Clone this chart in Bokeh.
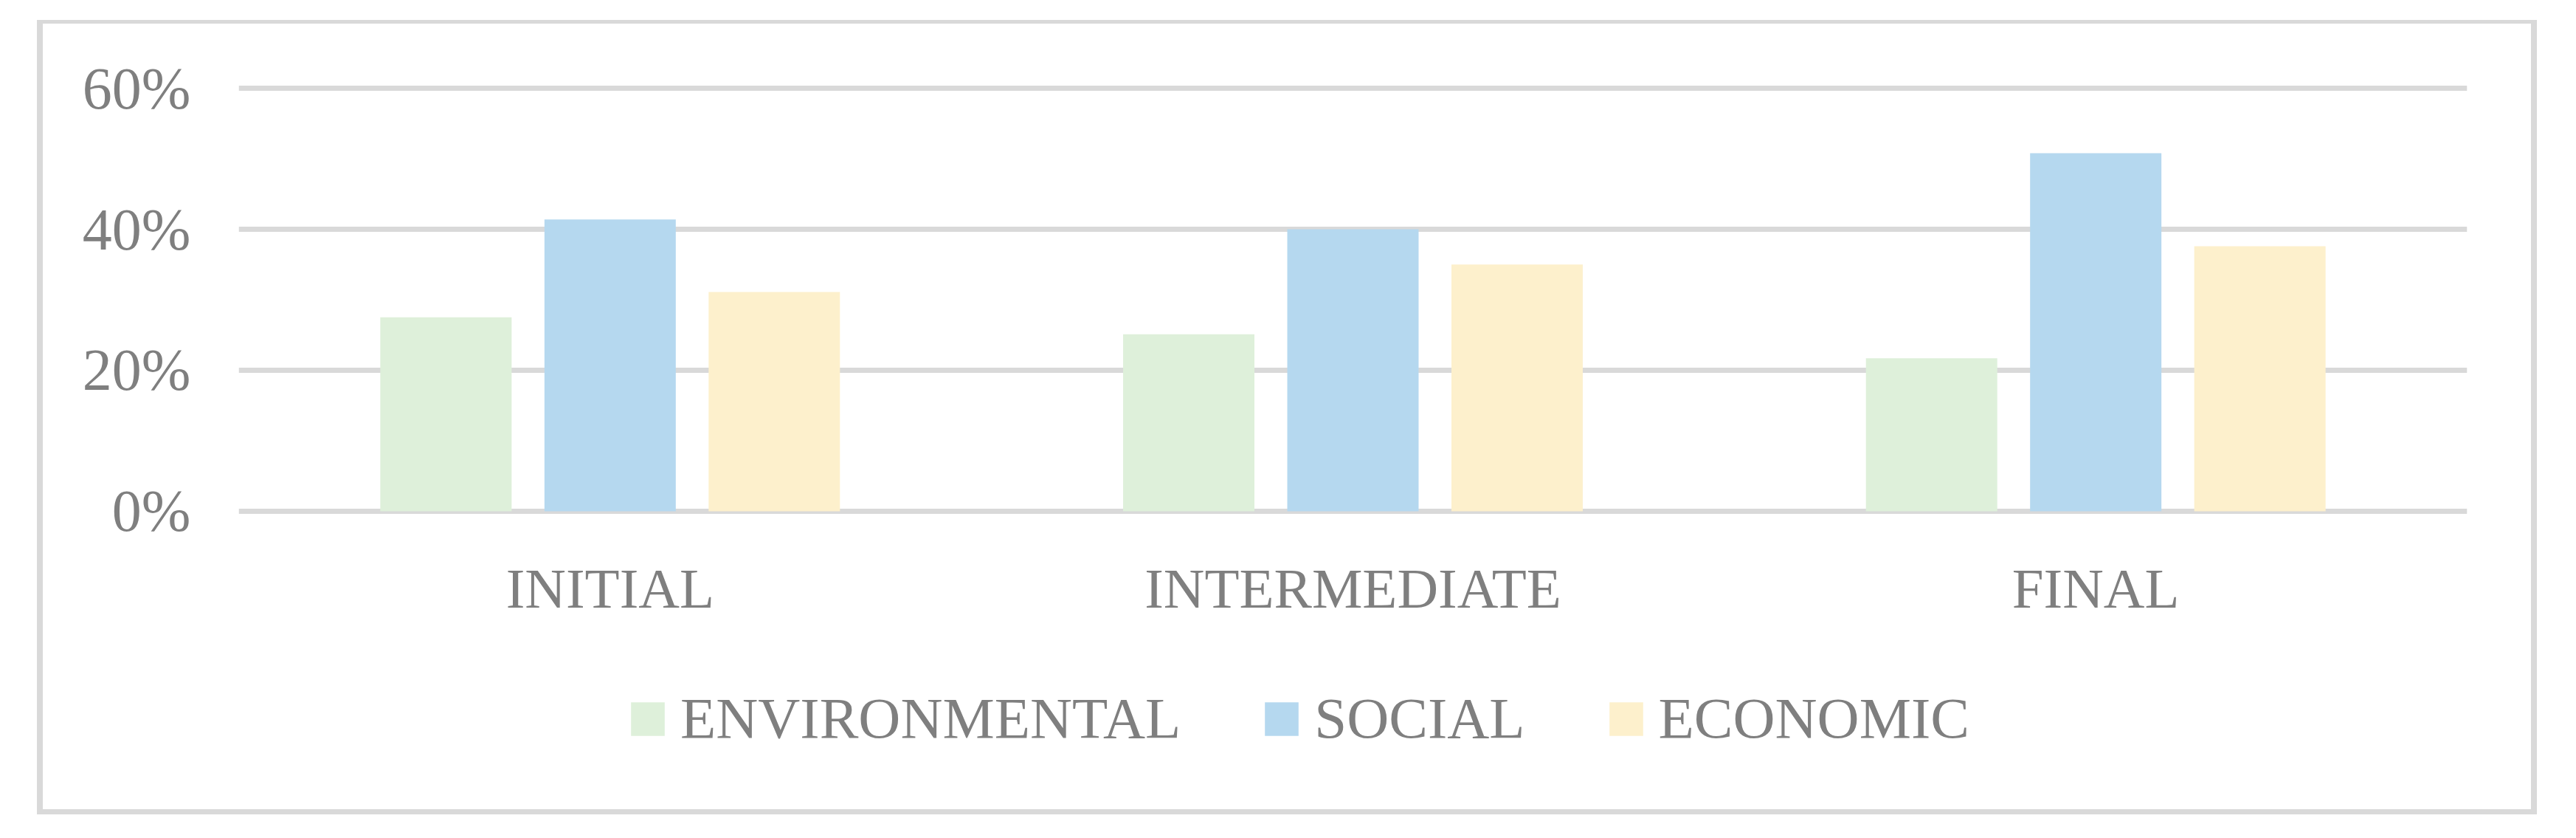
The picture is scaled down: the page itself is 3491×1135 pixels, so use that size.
from bokeh.plotting import figure
from bokeh.layouts import column
from bokeh.models import (Range1d, FactorRange, FixedTicker, PrintfTickFormatter,
                          Legend, LegendItem, ColumnDataSource)
from bokeh.transform import dodge
from bokeh.embed import file_html
from bokeh.resources import INLINE

categories = ["INITIAL", "INTERMEDIATE", "FINAL"]
series = ["ENVIRONMENTAL", "SOCIAL", "ECONOMIC"]
environmental = [27.5, 25.1, 21.7]
social = [41.4, 40.0, 50.8]
economic = [31.1, 35.0, 37.6]
y_ticks = [0, 20, 40, 60]
colors = ["#DEF0DA", "#B5D8EF", "#FDF0CC"]

FONT = "Liberation Serif"
TXT = "#7F7F7F"
GRID = "#D9D9D9"
W = 3372
H_MAIN = 880
H_LEG = 184
MB_L = 265
MB_R = 87

src = ColumnDataSource(dict(cat=categories, ENVIRONMENTAL=environmental,
                            SOCIAL=social, ECONOMIC=economic))

p = figure(x_range=FactorRange(*categories, range_padding=0),
           y_range=Range1d(-2, 62),
           width=W, height=H_MAIN,
           output_backend="svg", toolbar_location=None,
           min_border_left=MB_L, min_border_right=MB_R,
           min_border_top=68, min_border_bottom=H_MAIN - 68 - 611)

offsets = [-0.221, 0.0, 0.221]
for s, off, c in zip(series, offsets, colors):
    p.vbar(x=dodge("cat", off, range=p.x_range), top=s, bottom=0,
           width=0.1768, source=src, fill_color=c, line_color=None)

p.outline_line_color = None
p.background_fill_color = "white"
p.border_fill_color = "white"

p.xgrid.grid_line_color = None
p.ygrid.ticker = FixedTicker(ticks=y_ticks)
p.ygrid.grid_line_color = GRID
p.ygrid.grid_line_width = 7

p.yaxis.ticker = FixedTicker(ticks=y_ticks)
p.yaxis.formatter = PrintfTickFormatter(format="%d%%")
for ax in (p.xaxis, p.yaxis):
    ax.axis_line_color = None
    ax.major_tick_line_color = None
    ax.minor_tick_line_color = None
    ax.major_tick_out = 0
    ax.major_tick_in = 0
    ax.major_label_text_font = FONT
    ax.major_label_text_color = TXT
p.xaxis.major_label_text_font_size = "77px"
p.yaxis.major_label_text_font_size = "80px"
p.yaxis.major_label_standoff = 65
p.xaxis.major_label_standoff = 42

# legend strip (its own off-screen copies of the bars supply the legend swatches)
leg = figure(x_range=FactorRange(*categories, range_padding=0),
             y_range=Range1d(1000, 1001),
             width=W, height=H_LEG, output_backend="svg", toolbar_location=None,
             x_axis_location=None, y_axis_location=None,
             min_border_left=MB_L, min_border_right=MB_R,
             min_border_top=0, min_border_bottom=0)
leg.grid.visible = False
leg.outline_line_color = None
leg.background_fill_color = "white"
leg.border_fill_color = "white"
items = []
for s, off, c in zip(series, offsets, colors):
    r = leg.vbar(x=dodge("cat", off, range=leg.x_range), top=s, bottom=0,
                 width=0.1768, source=src, fill_color=c, line_color=None)
    items.append(LegendItem(label=s, renderers=[r]))

legend = Legend(items=items, location=(526, 78), orientation="horizontal",
                glyph_width=57, glyph_height=57, label_standoff=16, spacing=108,
                padding=0, margin=0, border_line_color=None,
                background_fill_alpha=0,
                label_text_font=FONT, label_text_font_size="79px",
                label_text_color=TXT)
leg.add_layout(legend, "center")

layout = column(p, leg, spacing=0)
layout.styles = {"box-sizing": "content-box",
                 "border-style": "solid", "border-color": GRID,
                 "border-width": "5px 8px 7px 8px",
                 "position": "relative", "left": "50px", "top": "27px"}

open("out.html", "w").write(file_html(layout, INLINE))
